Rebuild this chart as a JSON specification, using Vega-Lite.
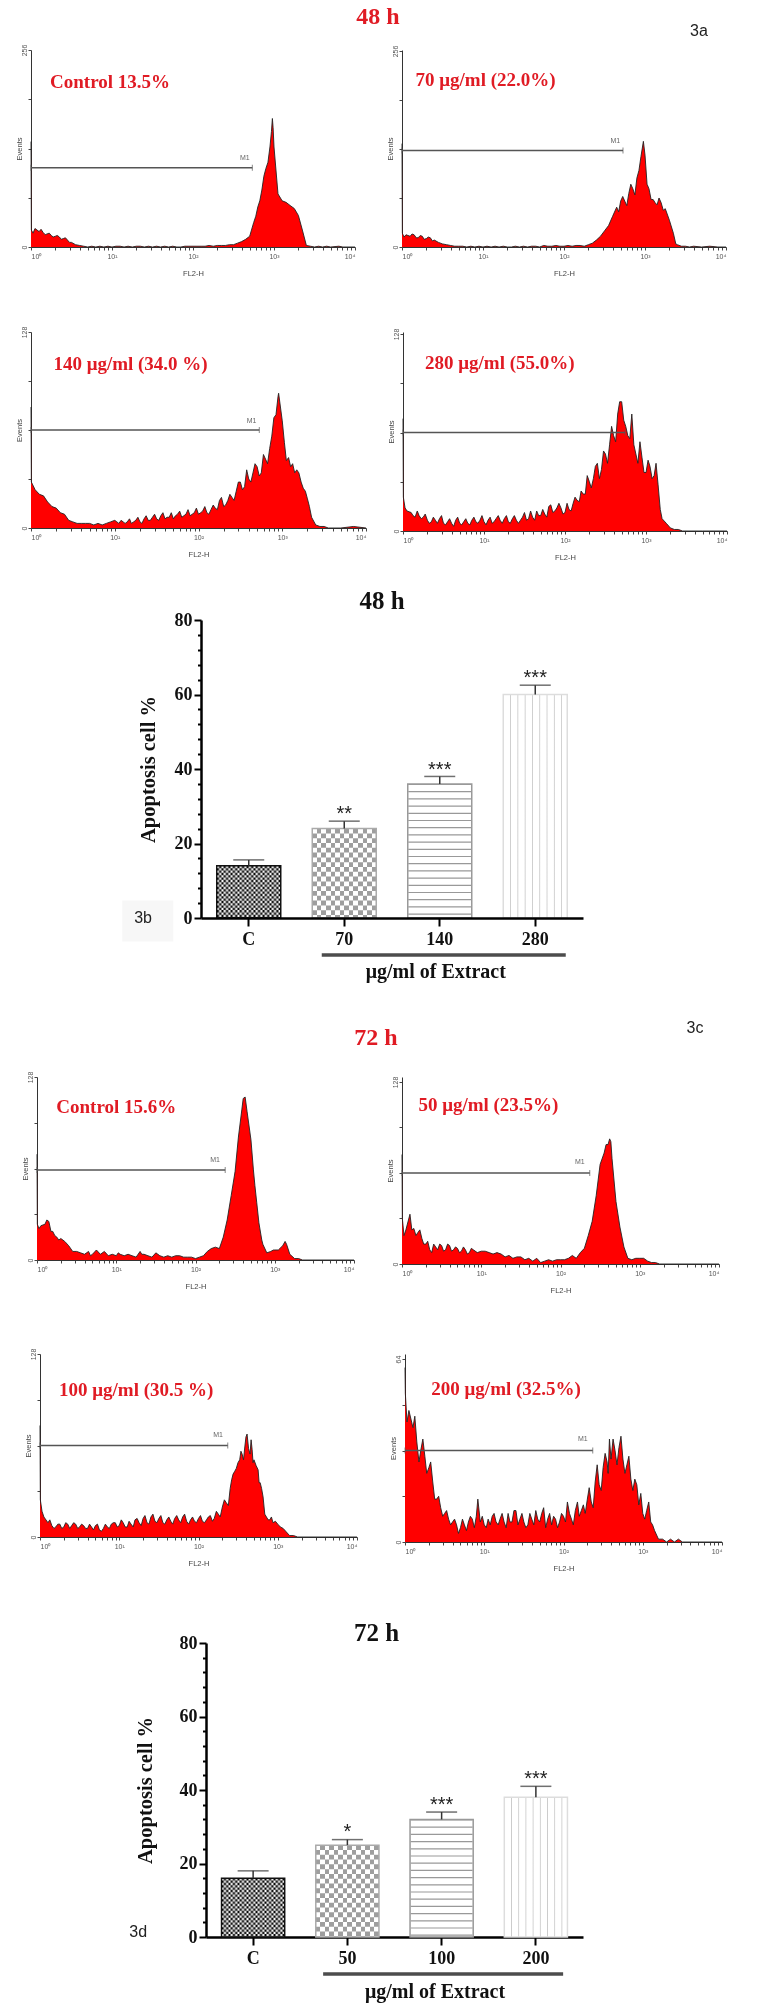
{"$schema":"https://vega.github.io/schema/vega-lite/v6.json","padding":0,"background":"white",
"config":{"view":{"stroke":null},"axis":{"grid":false,"labelFont":"Liberation Sans","labelFontSize":7,"labelColor":"#555","titleFont":"Liberation Sans","titleFontSize":7.5,"titleFontWeight":"normal","titleColor":"#444","domainColor":"#333","tickColor":"#444","tickSize":3,"labelPadding":2,"labelOverlap":false,"titlePadding":10},"axisY":{"titleX":-8,"labelPadding":1},
"style":{"lab":{"font":"Liberation Serif","fontWeight":"bold","fontSize":19,"color":"#e01b24","align":"left"},"m1":{"font":"Liberation Sans","fontSize":7,"color":"#666"},"big":{"font":"Liberation Serif","fontWeight":"bold","fontSize":24,"color":"#e01b24"},"num":{"font":"Liberation Sans","fontSize":16,"color":"#222"},"sub":{"font":"Liberation Serif","fontWeight":"bold","fontSize":20,"color":"#111"},"st":{"font":"Liberation Sans","fontSize":20,"color":"#222"}}},
"datasets":{
"a1":[{"x":1,"y":137},{"x":1.01,"y":22},{"x":1.12,"y":24},{"x":1.26,"y":20},{"x":1.41,"y":19},{"x":1.58,"y":17},{"x":1.78,"y":15},{"x":2,"y":14},{"x":2.24,"y":13},{"x":2.51,"y":11},{"x":2.82,"y":9},{"x":3.16,"y":6},{"x":3.55,"y":3},{"x":3.98,"y":2},{"x":4.47,"y":1},{"x":5.01,"y":0},{"x":5.62,"y":1},{"x":6.31,"y":0},{"x":7.08,"y":1},{"x":7.94,"y":0},{"x":8.91,"y":1},{"x":10,"y":0},{"x":11.2,"y":1},{"x":12.6,"y":1},{"x":14.1,"y":0},{"x":15.8,"y":1},{"x":17.8,"y":0},{"x":20,"y":1},{"x":22.4,"y":1},{"x":25.1,"y":0},{"x":28.2,"y":1},{"x":31.6,"y":0},{"x":35.5,"y":1},{"x":39.8,"y":0},{"x":44.7,"y":1},{"x":50.1,"y":0},{"x":56.2,"y":1},{"x":63.1,"y":0},{"x":70.8,"y":0},{"x":79.4,"y":1},{"x":89.1,"y":1},{"x":100,"y":1},{"x":112,"y":1},{"x":126,"y":1},{"x":141,"y":1},{"x":158,"y":2},{"x":178,"y":1},{"x":200,"y":2},{"x":224,"y":2},{"x":251,"y":2},{"x":282,"y":3},{"x":316,"y":3},{"x":355,"y":5},{"x":398,"y":7},{"x":447,"y":10},{"x":501,"y":14},{"x":562,"y":32},{"x":631,"y":52},{"x":708,"y":74},{"x":794,"y":102},{"x":891,"y":130},{"x":955,"y":167},{"x":1000,"y":130},{"x":1120,"y":69},{"x":1260,"y":60},{"x":1410,"y":58},{"x":1580,"y":54},{"x":1780,"y":50},{"x":2000,"y":41},{"x":2240,"y":22},{"x":2510,"y":2},{"x":2820,"y":1},{"x":3160,"y":0},{"x":3550,"y":1},{"x":3980,"y":0},{"x":4470,"y":1},{"x":5010,"y":0},{"x":6310,"y":1},{"x":7080,"y":0},{"x":8910,"y":0},{"x":10000,"y":0},{"x":1.06,"y":18},{"x":1.33,"y":23},{"x":1.5,"y":16},{"x":1.68,"y":18},{"x":1.88,"y":13},{"x":2.11,"y":15},{"x":2.37,"y":10},{"x":2.66,"y":12},{"x":2.99,"y":6},{"x":596,"y":40},{"x":668,"y":60},{"x":750,"y":92},{"x":842,"y":110},{"x":930,"y":150},{"x":975,"y":155}],
"a2":[{"x":1,"y":135},{"x":1.01,"y":18},{"x":1.12,"y":16},{"x":1.26,"y":14},{"x":1.41,"y":16},{"x":1.58,"y":12},{"x":1.78,"y":14},{"x":2,"y":11},{"x":2.24,"y":12},{"x":2.51,"y":9},{"x":2.82,"y":6},{"x":3.16,"y":4},{"x":3.55,"y":3},{"x":3.98,"y":2},{"x":4.47,"y":1},{"x":5.01,"y":1},{"x":5.62,"y":1},{"x":6.31,"y":0},{"x":7.08,"y":1},{"x":7.94,"y":0},{"x":8.91,"y":1},{"x":10,"y":0},{"x":11.2,"y":1},{"x":12.6,"y":0},{"x":14.1,"y":1},{"x":15.8,"y":0},{"x":17.8,"y":1},{"x":20,"y":0},{"x":22.4,"y":0},{"x":25.1,"y":1},{"x":28.2,"y":0},{"x":31.6,"y":1},{"x":35.5,"y":0},{"x":39.8,"y":1},{"x":44.7,"y":1},{"x":50.1,"y":0},{"x":56.2,"y":2},{"x":63.1,"y":1},{"x":70.8,"y":1},{"x":79.4,"y":2},{"x":89.1,"y":1},{"x":100,"y":1},{"x":112,"y":2},{"x":126,"y":1},{"x":141,"y":2},{"x":158,"y":2},{"x":178,"y":1},{"x":200,"y":3},{"x":224,"y":5},{"x":251,"y":9},{"x":282,"y":14},{"x":316,"y":21},{"x":355,"y":28},{"x":398,"y":40},{"x":447,"y":52},{"x":501,"y":60},{"x":562,"y":60},{"x":631,"y":70},{"x":708,"y":76},{"x":794,"y":90},{"x":891,"y":118},{"x":955,"y":138},{"x":1000,"y":120},{"x":1120,"y":76},{"x":1260,"y":62},{"x":1410,"y":55},{"x":1580,"y":58},{"x":1780,"y":50},{"x":2000,"y":35},{"x":2240,"y":18},{"x":2400,"y":4},{"x":2510,"y":3},{"x":2820,"y":1},{"x":3160,"y":1},{"x":3550,"y":0},{"x":3980,"y":1},{"x":5010,"y":0},{"x":6310,"y":1},{"x":7940,"y":0},{"x":10000,"y":0},{"x":1.06,"y":13},{"x":1.33,"y":17},{"x":1.5,"y":12},{"x":1.68,"y":15},{"x":1.88,"y":10},{"x":2.11,"y":13},{"x":2.37,"y":8},{"x":473,"y":46},{"x":531,"y":66},{"x":596,"y":54},{"x":668,"y":82},{"x":750,"y":68},{"x":842,"y":100},{"x":1060,"y":82},{"x":1190,"y":62},{"x":1330,"y":58},{"x":1490,"y":64},{"x":1680,"y":48}],
"a3":[{"x":1,"y":79},{"x":1.01,"y":30},{"x":1.12,"y":25},{"x":1.26,"y":22},{"x":1.41,"y":21},{"x":1.58,"y":17},{"x":1.78,"y":14},{"x":2,"y":13},{"x":2.24,"y":10},{"x":2.51,"y":9},{"x":2.82,"y":5},{"x":3.16,"y":4},{"x":3.55,"y":3},{"x":3.98,"y":3},{"x":4.47,"y":3},{"x":5.01,"y":3},{"x":5.62,"y":2},{"x":6.31,"y":3},{"x":7.08,"y":2},{"x":7.94,"y":3},{"x":8.91,"y":4},{"x":10,"y":5},{"x":11.2,"y":3},{"x":12.6,"y":4},{"x":14.1,"y":4},{"x":15.8,"y":3},{"x":17.8,"y":5},{"x":20,"y":4},{"x":22.4,"y":6},{"x":25.1,"y":5},{"x":28.2,"y":7},{"x":31.6,"y":6},{"x":35.5,"y":8},{"x":39.8,"y":6},{"x":44.7,"y":7},{"x":50.1,"y":6},{"x":56.2,"y":9},{"x":63.1,"y":7},{"x":70.8,"y":9},{"x":79.4,"y":8},{"x":89.1,"y":10},{"x":100,"y":9},{"x":112,"y":11},{"x":126,"y":10},{"x":141,"y":12},{"x":158,"y":13},{"x":178,"y":18},{"x":200,"y":14},{"x":224,"y":18},{"x":251,"y":20},{"x":282,"y":24},{"x":316,"y":30},{"x":355,"y":27},{"x":398,"y":32},{"x":447,"y":36},{"x":501,"y":40},{"x":562,"y":36},{"x":631,"y":45},{"x":708,"y":52},{"x":794,"y":72},{"x":891,"y":86},{"x":905,"y":88},{"x":1000,"y":70},{"x":1120,"y":44},{"x":1260,"y":40},{"x":1410,"y":36},{"x":1580,"y":36},{"x":1780,"y":26},{"x":2000,"y":19},{"x":2240,"y":7},{"x":2510,"y":2},{"x":2820,"y":1},{"x":3160,"y":1},{"x":3550,"y":0},{"x":5010,"y":0},{"x":7080,"y":1},{"x":10000,"y":0},{"x":10.6,"y":4},{"x":11.9,"y":5},{"x":13.3,"y":3},{"x":15,"y":6},{"x":16.8,"y":4},{"x":18.9,"y":7},{"x":21.1,"y":3},{"x":23.7,"y":8},{"x":26.6,"y":5},{"x":29.9,"y":9},{"x":33.5,"y":5},{"x":37.6,"y":10},{"x":42.2,"y":7},{"x":47.3,"y":10},{"x":53.1,"y":8},{"x":59.6,"y":11},{"x":66.8,"y":8},{"x":75,"y":12},{"x":84.1,"y":9},{"x":94.4,"y":13},{"x":106,"y":10},{"x":119,"y":14},{"x":133,"y":9},{"x":150,"y":15},{"x":168,"y":12},{"x":188,"y":20},{"x":211,"y":15},{"x":237,"y":22},{"x":266,"y":18},{"x":299,"y":30},{"x":335,"y":25},{"x":376,"y":38},{"x":422,"y":30},{"x":473,"y":42},{"x":531,"y":34},{"x":596,"y":48},{"x":668,"y":42},{"x":750,"y":60},{"x":842,"y":74},{"x":1060,"y":56},{"x":1190,"y":46},{"x":1330,"y":42},{"x":1490,"y":38},{"x":1680,"y":30},{"x":1890,"y":24},{"x":2110,"y":14}],
"a4":[{"x":1,"y":73},{"x":1.01,"y":22},{"x":1.12,"y":13},{"x":1.26,"y":12},{"x":1.41,"y":9},{"x":1.58,"y":10},{"x":1.78,"y":9},{"x":2,"y":7},{"x":2.24,"y":6},{"x":2.51,"y":7},{"x":2.82,"y":8},{"x":3.16,"y":5},{"x":3.55,"y":6},{"x":3.98,"y":5},{"x":4.47,"y":7},{"x":5.01,"y":5},{"x":5.62,"y":6},{"x":6.31,"y":5},{"x":7.08,"y":7},{"x":7.94,"y":6},{"x":8.91,"y":7},{"x":10,"y":6},{"x":11.2,"y":7},{"x":12.6,"y":5},{"x":14.1,"y":8},{"x":15.8,"y":7},{"x":17.8,"y":8},{"x":20,"y":6},{"x":22.4,"y":8},{"x":25.1,"y":7},{"x":28.2,"y":7},{"x":31.6,"y":12},{"x":35.5,"y":8},{"x":39.8,"y":9},{"x":44.7,"y":13},{"x":50.1,"y":10},{"x":56.2,"y":11},{"x":63.1,"y":16},{"x":70.8,"y":12},{"x":79.4,"y":15},{"x":89.1,"y":15},{"x":100,"y":12},{"x":112,"y":14},{"x":126,"y":18},{"x":141,"y":20},{"x":158,"y":26},{"x":178,"y":24},{"x":200,"y":32},{"x":224,"y":34},{"x":251,"y":44},{"x":282,"y":40},{"x":316,"y":50},{"x":355,"y":56},{"x":398,"y":62},{"x":447,"y":76},{"x":501,"y":84},{"x":562,"y":68},{"x":631,"y":60},{"x":708,"y":56},{"x":794,"y":44},{"x":891,"y":48},{"x":1000,"y":38},{"x":1120,"y":42},{"x":1260,"y":36},{"x":1410,"y":30},{"x":1500,"y":14},{"x":1580,"y":8},{"x":1780,"y":5},{"x":2000,"y":2},{"x":2240,"y":1},{"x":2510,"y":1},{"x":2820,"y":0},{"x":5010,"y":0},{"x":10000,"y":0},{"x":1.06,"y":15},{"x":1.33,"y":10},{"x":1.5,"y":13},{"x":1.68,"y":8},{"x":1.88,"y":11},{"x":2.11,"y":5},{"x":2.37,"y":9},{"x":2.66,"y":5},{"x":2.99,"y":10},{"x":3.35,"y":4},{"x":3.76,"y":8},{"x":4.22,"y":3},{"x":4.73,"y":9},{"x":5.31,"y":4},{"x":5.96,"y":8},{"x":6.68,"y":4},{"x":7.5,"y":9},{"x":8.41,"y":5},{"x":9.44,"y":10},{"x":10.6,"y":4},{"x":11.9,"y":9},{"x":13.3,"y":6},{"x":15,"y":10},{"x":16.8,"y":5},{"x":18.9,"y":10},{"x":21.1,"y":5},{"x":23.7,"y":10},{"x":26.6,"y":5},{"x":29.9,"y":9},{"x":33.5,"y":7},{"x":37.6,"y":13},{"x":42.2,"y":7},{"x":47.3,"y":10},{"x":53.1,"y":14},{"x":59.6,"y":9},{"x":66.8,"y":17},{"x":75,"y":13},{"x":84.1,"y":18},{"x":94.4,"y":11},{"x":106,"y":18},{"x":119,"y":13},{"x":133,"y":22},{"x":150,"y":19},{"x":168,"y":24},{"x":188,"y":36},{"x":211,"y":28},{"x":237,"y":42},{"x":266,"y":34},{"x":299,"y":52},{"x":335,"y":44},{"x":376,"y":68},{"x":422,"y":58},{"x":473,"y":84},{"x":531,"y":72},{"x":596,"y":62},{"x":668,"y":76},{"x":750,"y":50},{"x":842,"y":58},{"x":945,"y":38},{"x":1060,"y":46},{"x":1190,"y":34},{"x":1330,"y":44}],
"c1":[{"x":1,"y":74},{"x":1.01,"y":25},{"x":1.12,"y":24},{"x":1.26,"y":25},{"x":1.41,"y":27},{"x":1.58,"y":20},{"x":1.78,"y":16},{"x":2,"y":15},{"x":2.24,"y":13},{"x":2.51,"y":10},{"x":2.82,"y":6},{"x":3.16,"y":6},{"x":3.55,"y":5},{"x":3.98,"y":4},{"x":4.47,"y":6},{"x":5.01,"y":4},{"x":5.62,"y":7},{"x":6.31,"y":4},{"x":7.08,"y":6},{"x":7.94,"y":3},{"x":8.91,"y":4},{"x":10,"y":3},{"x":11.2,"y":4},{"x":12.6,"y":3},{"x":14.1,"y":4},{"x":15.8,"y":3},{"x":17.8,"y":2},{"x":20,"y":6},{"x":22.4,"y":4},{"x":25.1,"y":3},{"x":28.2,"y":2},{"x":31.6,"y":5},{"x":35.5,"y":3},{"x":39.8,"y":2},{"x":44.7,"y":3},{"x":50.1,"y":2},{"x":56.2,"y":3},{"x":63.1,"y":3},{"x":70.8,"y":2},{"x":79.4,"y":2},{"x":89.1,"y":2},{"x":100,"y":1},{"x":112,"y":2},{"x":126,"y":3},{"x":141,"y":6},{"x":158,"y":8},{"x":178,"y":9},{"x":200,"y":8},{"x":224,"y":16},{"x":251,"y":28},{"x":282,"y":45},{"x":316,"y":62},{"x":348,"y":86},{"x":384,"y":105},{"x":400,"y":113},{"x":423,"y":114},{"x":447,"y":104},{"x":501,"y":84},{"x":538,"y":63},{"x":562,"y":52},{"x":593,"y":40},{"x":631,"y":26},{"x":686,"y":14},{"x":708,"y":11},{"x":794,"y":5},{"x":891,"y":6},{"x":962,"y":7},{"x":1000,"y":7},{"x":1110,"y":7},{"x":1260,"y":10},{"x":1350,"y":13},{"x":1410,"y":11},{"x":1550,"y":4},{"x":1780,"y":1},{"x":2000,"y":1},{"x":2240,"y":0},{"x":10000,"y":0},{"x":1.06,"y":22},{"x":1.33,"y":28},{"x":1.5,"y":20},{"x":1.68,"y":17},{"x":1.88,"y":14},{"x":4.22,"y":5},{"x":4.73,"y":3},{"x":10.6,"y":5},{"x":21,"y":4}],
"c2":[{"x":1,"y":77},{"x":1.01,"y":32},{"x":1.12,"y":24},{"x":1.26,"y":35},{"x":1.41,"y":25},{"x":1.58,"y":22},{"x":1.78,"y":18},{"x":2,"y":14},{"x":2.24,"y":10},{"x":2.51,"y":14},{"x":2.82,"y":10},{"x":3.16,"y":13},{"x":3.55,"y":10},{"x":3.98,"y":13},{"x":4.47,"y":10},{"x":5.01,"y":11},{"x":5.62,"y":9},{"x":6.31,"y":10},{"x":7.08,"y":8},{"x":7.94,"y":10},{"x":8.91,"y":8},{"x":10,"y":9},{"x":11.2,"y":9},{"x":12.6,"y":8},{"x":14.1,"y":7},{"x":15.8,"y":8},{"x":17.8,"y":7},{"x":20,"y":5},{"x":22.4,"y":6},{"x":25.1,"y":4},{"x":28.2,"y":5},{"x":31.6,"y":5},{"x":35.5,"y":3},{"x":39.8,"y":4},{"x":44.7,"y":2},{"x":50.1,"y":4},{"x":56.2,"y":1},{"x":63.1,"y":2},{"x":70.8,"y":3},{"x":79.4,"y":2},{"x":89.1,"y":3},{"x":100,"y":3},{"x":112,"y":3},{"x":126,"y":4},{"x":141,"y":6},{"x":158,"y":4},{"x":178,"y":8},{"x":200,"y":11},{"x":224,"y":20},{"x":251,"y":30},{"x":282,"y":48},{"x":316,"y":70},{"x":355,"y":78},{"x":398,"y":84},{"x":417,"y":88},{"x":447,"y":74},{"x":501,"y":44},{"x":562,"y":26},{"x":631,"y":12},{"x":708,"y":4},{"x":794,"y":3},{"x":891,"y":4},{"x":1000,"y":4},{"x":1120,"y":4},{"x":1260,"y":2},{"x":1410,"y":1},{"x":1580,"y":1},{"x":1780,"y":0},{"x":10000,"y":0},{"x":1.06,"y":20},{"x":1.33,"y":24},{"x":1.5,"y":20},{"x":1.68,"y":24},{"x":1.88,"y":14},{"x":2.11,"y":16},{"x":2.37,"y":8},{"x":2.66,"y":12},{"x":2.99,"y":14},{"x":3.35,"y":9},{"x":3.76,"y":14},{"x":4.22,"y":9},{"x":4.73,"y":12},{"x":5.31,"y":8},{"x":5.96,"y":12},{"x":6.68,"y":7},{"x":7.5,"y":11},{"x":376,"y":84},{"x":432,"y":86}],
"c3":[{"x":1,"y":78},{"x":1.01,"y":26},{"x":1.12,"y":14},{"x":1.26,"y":10},{"x":1.41,"y":8},{"x":1.58,"y":7},{"x":1.78,"y":9},{"x":2,"y":7},{"x":2.24,"y":9},{"x":2.51,"y":8},{"x":2.82,"y":9},{"x":3.16,"y":7},{"x":3.55,"y":8},{"x":3.98,"y":6},{"x":4.47,"y":7},{"x":5.01,"y":8},{"x":5.62,"y":5},{"x":6.31,"y":6},{"x":7.08,"y":7},{"x":7.94,"y":9},{"x":8.91,"y":10},{"x":10,"y":8},{"x":11.2,"y":10},{"x":12.6,"y":7},{"x":14.1,"y":9},{"x":15.8,"y":12},{"x":17.8,"y":10},{"x":20,"y":13},{"x":22.4,"y":10},{"x":25.1,"y":14},{"x":28.2,"y":11},{"x":31.6,"y":13},{"x":35.5,"y":10},{"x":39.8,"y":12},{"x":44.7,"y":11},{"x":50.1,"y":13},{"x":56.2,"y":12},{"x":63.1,"y":14},{"x":70.8,"y":11},{"x":79.4,"y":12},{"x":89.1,"y":11},{"x":100,"y":13},{"x":112,"y":11},{"x":126,"y":12},{"x":141,"y":15},{"x":158,"y":13},{"x":178,"y":16},{"x":200,"y":21},{"x":224,"y":24},{"x":251,"y":34},{"x":273,"y":44},{"x":300,"y":48},{"x":331,"y":54},{"x":355,"y":58},{"x":384,"y":63},{"x":410,"y":72},{"x":447,"y":58},{"x":475,"y":61},{"x":501,"y":54},{"x":565,"y":47},{"x":600,"y":38},{"x":653,"y":28},{"x":720,"y":14},{"x":794,"y":12},{"x":871,"y":10},{"x":1000,"y":9},{"x":1170,"y":6},{"x":1260,"y":4},{"x":1410,"y":1},{"x":1580,"y":1},{"x":1780,"y":0},{"x":10000,"y":0},{"x":1.06,"y":18},{"x":1.33,"y":12},{"x":1.5,"y":6},{"x":1.68,"y":9},{"x":1.88,"y":6},{"x":2.11,"y":10},{"x":2.37,"y":6},{"x":2.66,"y":10},{"x":2.99,"y":6},{"x":3.35,"y":9},{"x":3.76,"y":6},{"x":4.22,"y":9},{"x":4.73,"y":5},{"x":5.31,"y":9},{"x":5.96,"y":4},{"x":6.68,"y":9},{"x":7.5,"y":6},{"x":8.41,"y":10},{"x":9.44,"y":7},{"x":10.6,"y":12},{"x":11.9,"y":7},{"x":13.3,"y":11},{"x":15,"y":7},{"x":16.8,"y":13},{"x":18.9,"y":8},{"x":21.1,"y":15},{"x":23.7,"y":9},{"x":26.6,"y":16},{"x":29.9,"y":10},{"x":33.5,"y":15},{"x":37.6,"y":9},{"x":42.2,"y":14},{"x":47.3,"y":9},{"x":53.1,"y":15},{"x":59.6,"y":10},{"x":66.8,"y":16},{"x":75,"y":9},{"x":84.1,"y":14},{"x":94.4,"y":10},{"x":106,"y":15},{"x":119,"y":10},{"x":133,"y":14},{"x":150,"y":11},{"x":168,"y":18},{"x":188,"y":14},{"x":212,"y":26},{"x":238,"y":22},{"x":262,"y":40},{"x":287,"y":46},{"x":315,"y":52},{"x":343,"y":60},{"x":370,"y":54},{"x":397,"y":70},{"x":428,"y":62},{"x":461,"y":68},{"x":488,"y":52},{"x":533,"y":50},{"x":582,"y":38},{"x":625,"y":34},{"x":686,"y":16},{"x":757,"y":12},{"x":832,"y":14},{"x":935,"y":11},{"x":1080,"y":7}],
"c4":[{"x":1,"y":61},{"x":1.01,"y":52},{"x":1.12,"y":46},{"x":1.26,"y":40},{"x":1.41,"y":35},{"x":1.58,"y":32},{"x":1.78,"y":30},{"x":2,"y":26},{"x":2.24,"y":21},{"x":2.51,"y":15},{"x":2.82,"y":12},{"x":3.16,"y":10},{"x":3.55,"y":8},{"x":3.98,"y":7},{"x":4.47,"y":6},{"x":5.01,"y":5},{"x":5.62,"y":6},{"x":6.31,"y":7},{"x":7.08,"y":8},{"x":7.94,"y":9},{"x":8.3,"y":15},{"x":8.91,"y":7},{"x":10,"y":6},{"x":11.2,"y":8},{"x":12.6,"y":9},{"x":14.1,"y":7},{"x":15.8,"y":8},{"x":17.8,"y":7},{"x":20,"y":10},{"x":22.4,"y":7},{"x":25.1,"y":11},{"x":28.2,"y":8},{"x":31.6,"y":7},{"x":35.5,"y":6},{"x":39.8,"y":8},{"x":44.7,"y":11},{"x":50.1,"y":7},{"x":56.2,"y":12},{"x":63.1,"y":8},{"x":70.8,"y":6},{"x":79.4,"y":8},{"x":89.1,"y":7},{"x":100,"y":9},{"x":112,"y":14},{"x":126,"y":8},{"x":141,"y":11},{"x":158,"y":9},{"x":178,"y":13},{"x":200,"y":15},{"x":224,"y":14},{"x":251,"y":21},{"x":282,"y":20},{"x":316,"y":26},{"x":355,"y":28},{"x":380,"y":36},{"x":398,"y":29},{"x":447,"y":32},{"x":501,"y":33},{"x":562,"y":29},{"x":631,"y":27},{"x":708,"y":22},{"x":794,"y":22},{"x":891,"y":13},{"x":1000,"y":10},{"x":1120,"y":11},{"x":1260,"y":7},{"x":1410,"y":4},{"x":1580,"y":1},{"x":1780,"y":1},{"x":2000,"y":0},{"x":2240,"y":1},{"x":2510,"y":0},{"x":2820,"y":1},{"x":3160,"y":0},{"x":10000,"y":0},{"x":1.06,"y":42},{"x":1.33,"y":44},{"x":1.5,"y":28},{"x":1.68,"y":36},{"x":1.88,"y":24},{"x":2.11,"y":28},{"x":2.37,"y":15},{"x":2.66,"y":16},{"x":2.99,"y":9},{"x":3.35,"y":11},{"x":3.76,"y":6},{"x":4.22,"y":8},{"x":4.73,"y":3},{"x":5.31,"y":8},{"x":5.96,"y":4},{"x":6.68,"y":9},{"x":7.5,"y":5},{"x":9.44,"y":9},{"x":10.6,"y":5},{"x":11.9,"y":6},{"x":13.3,"y":10},{"x":15,"y":6},{"x":16.8,"y":10},{"x":18.9,"y":5},{"x":21.1,"y":7},{"x":23.7,"y":11},{"x":26.6,"y":6},{"x":29.9,"y":10},{"x":33.5,"y":5},{"x":37.6,"y":10},{"x":42.2,"y":6},{"x":47.3,"y":8},{"x":53.1,"y":10},{"x":59.6,"y":5},{"x":66.8,"y":10},{"x":75,"y":9},{"x":84.1,"y":5},{"x":94.4,"y":10},{"x":106,"y":7},{"x":119,"y":10},{"x":133,"y":6},{"x":150,"y":14},{"x":168,"y":11},{"x":188,"y":10},{"x":211,"y":19},{"x":237,"y":12},{"x":266,"y":27},{"x":299,"y":18},{"x":335,"y":31},{"x":366,"y":24},{"x":422,"y":36},{"x":473,"y":27},{"x":531,"y":37},{"x":596,"y":24},{"x":668,"y":30},{"x":750,"y":18},{"x":842,"y":20},{"x":945,"y":17},{"x":1060,"y":8},{"x":1190,"y":14},{"x":1330,"y":6}],
"b":[{"d":"C","v":14,"e":15.6},{"d":"70","v":24,"e":26,"s":29.2,"st":"**"},{"d":"140","v":36,"e":38,"s":41.2,"st":"***"},{"d":"280","v":60,"e":62.5,"s":65.9,"st":"***"}],
"d":[{"d":"C","v":16,"e":18},{"d":"50","v":25,"e":26.5,"s":29.9,"st":"*"},{"d":"100","v":32,"e":34,"s":37.4,"st":"***"},{"d":"200","v":38,"e":41,"s":44.4,"st":"***"}]
},
"columns":2,"spacing":0,"bounds":"flush","align":"each",
"concat":[
{"width":380,"height":50,"data":{"values":[{"t":"48 h"}]},"mark":{"type":"text","style":"big","dy":-8,"dx":188},"encoding":{"text":{"field":"t"}}},
{"width":0,"height":0,"data":{"values":[{}]},"mark":"text","encoding":{}},

{"width":380,"height":197,"encoding":{"x":{"field":"x","type":"quantitative","scale":{"type":"log","domain":[1,10000],"nice":false,"range":[31,355]},"axis":{"title":"FL2-H","tickCount":40,"labelExpr":"datum.value==1?'10⁰':datum.value==10?'10¹':datum.value==100?'10²':datum.value==1000?'10³':datum.value==10000?'10⁴':''"}},"y":{"field":"y","type":"quantitative","scale":{"domain":[0,256],"nice":false},"axis":{"offset":-31,"title":"Events","values":[0,64,128,192,256],"labelAngle":270,"labelExpr":"datum.value==0||datum.value==256?datum.label:''"}}},"layer":[
{"data":{"name":"a1"},"mark":{"type":"area","color":"#f00"}},{"data":{"name":"a1"},"mark":{"type":"line","color":"#222","strokeWidth":0.9}},
{"data":{"values":[{"x":1,"y":103},{"x":540,"y":103}]},"mark":{"type":"line","color":"#555","strokeWidth":1.5}},{"data":{"values":[{"x":1,"y":103},{"x":540,"y":103}]},"mark":{"type":"tick","orient":"vertical","size":6,"thickness":1,"color":"#555"}},
{"data":{"values":[{"x":437,"y":116,"t":"M1"}]},"mark":{"type":"text","style":"m1"},"encoding":{"text":{"field":"t"}}},
{"data":{"values":[{"x":1.72,"y":214,"t":"Control 13.5%"}]},"mark":{"type":"text","style":"lab"},"encoding":{"text":{"field":"t"}}}]},
{"width":377,"height":197,"encoding":{"x":{"field":"x","type":"quantitative","scale":{"type":"log","domain":[1,10000],"nice":false,"range":[22,346]},"axis":{"title":"FL2-H","tickCount":40,"labelExpr":"datum.value==1?'10⁰':datum.value==10?'10¹':datum.value==100?'10²':datum.value==1000?'10³':datum.value==10000?'10⁴':''"}},"y":{"field":"y","type":"quantitative","scale":{"domain":[0,257.3],"nice":false},"axis":{"offset":-22,"title":"Events","values":[0,64,128,192,256],"labelAngle":270,"labelExpr":"datum.value==0||datum.value==256?datum.label:''"}}},"layer":[
{"data":{"name":"a2"},"mark":{"type":"area","color":"#f00"}},{"data":{"name":"a2"},"mark":{"type":"line","color":"#222","strokeWidth":0.9}},
{"data":{"values":[{"x":1,"y":126},{"x":535,"y":126}]},"mark":{"type":"line","color":"#555","strokeWidth":1.5}},{"data":{"values":[{"x":1,"y":126},{"x":535,"y":126}]},"mark":{"type":"tick","orient":"vertical","size":6,"thickness":1,"color":"#555"}},
{"data":{"values":[{"x":430,"y":139,"t":"M1"}]},"mark":{"type":"text","style":"m1"},"encoding":{"text":{"field":"t"}}},
{"data":{"values":[{"x":1.47,"y":218,"t":"70 μg/ml (22.0%)"}]},"mark":{"type":"text","style":"lab"},"encoding":{"text":{"field":"t"}}},
{"data":{"values":[{"x":4640,"y":282,"t":"3a"}]},"mark":{"type":"text","style":"num"},"encoding":{"text":{"field":"t"}}}]},

{"width":1,"height":85,"data":{"values":[{}]},"mark":"text","encoding":{}},{"width":0,"height":0,"data":{"values":[{}]},"mark":"text","encoding":{}},

{"width":380,"height":196,"encoding":{"x":{"field":"x","type":"quantitative","scale":{"type":"log","domain":[1,10000],"nice":false,"range":[31,366]},"axis":{"title":"FL2-H","tickCount":40,"labelExpr":"datum.value==1?'10⁰':datum.value==10?'10¹':datum.value==100?'10²':datum.value==1000?'10³':datum.value==10000?'10⁴':''"}},"y":{"field":"y","type":"quantitative","scale":{"domain":[0,128],"nice":false},"axis":{"offset":-31,"title":"Events","values":[0,32,64,96,128],"labelAngle":270,"labelExpr":"datum.value==0||datum.value==128?datum.label:''"}}},"layer":[
{"data":{"name":"a3"},"mark":{"type":"area","color":"#f00"}},{"data":{"name":"a3"},"mark":{"type":"line","color":"#222","strokeWidth":0.9}},
{"data":{"values":[{"x":1,"y":64},{"x":532,"y":64}]},"mark":{"type":"line","color":"#555","strokeWidth":1.5}},{"data":{"values":[{"x":1,"y":64},{"x":532,"y":64}]},"mark":{"type":"tick","orient":"vertical","size":6,"thickness":1,"color":"#555"}},
{"data":{"values":[{"x":430,"y":70,"t":"M1"}]},"mark":{"type":"text","style":"m1"},"encoding":{"text":{"field":"t"}}},
{"data":{"values":[{"x":1.85,"y":107,"t":"140 μg/ml (34.0 %)"}]},"mark":{"type":"text","style":"lab"},"encoding":{"text":{"field":"t"}}}]},
{"width":377,"height":199,"encoding":{"x":{"field":"x","type":"quantitative","scale":{"type":"log","domain":[1,10000],"nice":false,"range":[23,347]},"axis":{"title":"FL2-H","tickCount":40,"labelExpr":"datum.value==1?'10⁰':datum.value==10?'10¹':datum.value==100?'10²':datum.value==1000?'10³':datum.value==10000?'10⁴':''"}},"y":{"field":"y","type":"quantitative","scale":{"domain":[0,129.3],"nice":false},"axis":{"offset":-23,"title":"Events","values":[0,32,64,96,128],"labelAngle":270,"labelExpr":"datum.value==0||datum.value==128?datum.label:''"}}},"layer":[
{"data":{"name":"a4"},"mark":{"type":"area","color":"#f00"}},{"data":{"name":"a4"},"mark":{"type":"line","color":"#222","strokeWidth":0.9}},
{"data":{"values":[{"x":1,"y":64},{"x":550,"y":64}]},"mark":{"type":"line","color":"#555","strokeWidth":1.5}},{"data":{"values":[{"x":1,"y":64},{"x":550,"y":64}]},"mark":{"type":"tick","orient":"vertical","size":6,"thickness":1,"color":"#555"}},
{"data":{"values":[{"x":1.87,"y":109,"t":"280 μg/ml (55.0%)"}]},"mark":{"type":"text","style":"lab"},"encoding":{"text":{"field":"t"}}}]},

{"width":1,"height":89,"data":{"values":[{}]},"mark":"text","encoding":{}},{"width":0,"height":0,"data":{"values":[{}]},"mark":"text","encoding":{}},

{"width":380,"height":298,"title":{"text":"48 h","font":"Liberation Serif","fontSize":25,"fontWeight":"bold","color":"#111","anchor":"middle","offset":12,"dx":192,"dy":15},"data":{"name":"b"},
"encoding":{"x":{"field":"d","type":"nominal","sort":null,"scale":{"domain":["C","70","140","280"],"paddingInner":0.33,"paddingOuter":0.165,"range":[201,583]},"axis":{"title":null,"labelAngle":0,"labelFont":"Liberation Serif","labelFontWeight":"bold","labelFontSize":18,"labelColor":"#111","labelPadding":4,"domainColor":"#000","domainWidth":2.5,"tickColor":"#000","tickWidth":2,"tickSize":8}},
"y":{"field":"v","type":"quantitative","scale":{"domain":[0,80],"nice":false},"axis":{"offset":-201,"title":"Apoptosis cell %","titleFont":"Liberation Serif","titleFontWeight":"bold","titleFontSize":20.5,"titleColor":"#111","titleX":-47,"titleBaseline":"alphabetic","values":[0,4,8,12,16,20,24,28,32,36,40,44,48,52,56,60,64,68,72,76,80],"labelExpr":"datum.value%20==0?datum.label:''","labelFont":"Liberation Serif","labelFontWeight":"bold","labelFontSize":18,"labelColor":"#111","labelPadding":2,"domainColor":"#000","domainWidth":2.5,"tickColor":"#000","tickWidth":2,"tickSize":{"condition":{"test":"datum.value%20==0","value":7},"value":3.5}}}},
"layer":[
{"data":{"values":[{"d":"C","y":0,"t":"3b"}]},"mark":{"type":"rect","width":51,"height":41,"xOffset":-101,"yOffset":3,"color":"#f7f7f7"},"encoding":{"y":{"field":"y","type":"quantitative"}}},
{"data":{"values":[{"d":"C","y":0,"t":"3b"}]},"mark":{"type":"text","style":"num","dx":-105.7},"encoding":{"y":{"field":"y","type":"quantitative"},"text":{"field":"t"}}},
{"transform":[{"filter":"datum.d=='C'"}],"mark":{"type":"bar","fill":{"gradient":"linear","x1":0,"y1":0,"x2":1,"y2":0,"stops":[{"offset":0.018,"color":"#000"},{"offset":0.054,"color":"#fff"},{"offset":0.089,"color":"#000"},{"offset":0.125,"color":"#fff"},{"offset":0.161,"color":"#000"},{"offset":0.196,"color":"#fff"},{"offset":0.232,"color":"#000"},{"offset":0.268,"color":"#fff"},{"offset":0.304,"color":"#000"},{"offset":0.339,"color":"#fff"},{"offset":0.375,"color":"#000"},{"offset":0.411,"color":"#fff"},{"offset":0.446,"color":"#000"},{"offset":0.482,"color":"#fff"},{"offset":0.518,"color":"#000"},{"offset":0.554,"color":"#fff"},{"offset":0.589,"color":"#000"},{"offset":0.625,"color":"#fff"},{"offset":0.661,"color":"#000"},{"offset":0.696,"color":"#fff"},{"offset":0.732,"color":"#000"},{"offset":0.768,"color":"#fff"},{"offset":0.804,"color":"#000"},{"offset":0.839,"color":"#fff"},{"offset":0.875,"color":"#000"},{"offset":0.911,"color":"#fff"},{"offset":0.946,"color":"#000"},{"offset":0.982,"color":"#fff"}]}}},
{"transform":[{"filter":"datum.d=='C'"}],"mark":{"type":"rule","color":"#fff","strokeWidth":64,"strokeDash":[2.33,2.33],"blend":"difference"},"encoding":{"y2":{"datum":0}}},
{"transform":[{"filter":"datum.d=='70'"}],"mark":{"type":"bar","fill":{"gradient":"linear","x1":0,"y1":0,"x2":1,"y2":0,"stops":[{"offset":0,"color":"#000"},{"offset":0.0714,"color":"#000"},{"offset":0.0714,"color":"#fff"},{"offset":0.1429,"color":"#fff"},{"offset":0.1429,"color":"#000"},{"offset":0.2143,"color":"#000"},{"offset":0.2143,"color":"#fff"},{"offset":0.2857,"color":"#fff"},{"offset":0.2857,"color":"#000"},{"offset":0.3571,"color":"#000"},{"offset":0.3571,"color":"#fff"},{"offset":0.4286,"color":"#fff"},{"offset":0.4286,"color":"#000"},{"offset":0.5,"color":"#000"},{"offset":0.5,"color":"#fff"},{"offset":0.5714,"color":"#fff"},{"offset":0.5714,"color":"#000"},{"offset":0.6429,"color":"#000"},{"offset":0.6429,"color":"#fff"},{"offset":0.7143,"color":"#fff"},{"offset":0.7143,"color":"#000"},{"offset":0.7857,"color":"#000"},{"offset":0.7857,"color":"#fff"},{"offset":0.8571,"color":"#fff"},{"offset":0.8571,"color":"#000"},{"offset":0.9286,"color":"#000"},{"offset":0.9286,"color":"#fff"},{"offset":1,"color":"#fff"}]}}},
{"transform":[{"filter":"datum.d=='70'"}],"mark":{"type":"rule","color":"#fff","strokeWidth":64,"strokeDash":[4.8,4.8],"blend":"difference"},"encoding":{"y2":{"datum":0}}},
{"transform":[{"filter":"datum.d=='70'"}],"mark":{"type":"bar","fill":"#fff","opacity":0.62}},
{"transform":[{"filter":"datum.d=='140'"}],"mark":{"type":"bar","fill":"#fff"}},
{"transform":[{"filter":"datum.d=='140'"}],"mark":{"type":"rule","color":"#999","strokeWidth":63,"strokeDash":[1.2,6]},"encoding":{"y2":{"datum":0}}},
{"transform":[{"filter":"datum.d=='280'"}],"mark":{"type":"bar","fill":{"gradient":"linear","x1":0,"y1":0,"x2":1,"y2":0,"stops":[{"offset":0,"color":"#fff"},{"offset":0.1,"color":"#fff"},{"offset":0.114,"color":"#ccc"},{"offset":0.128,"color":"#fff"},{"offset":0.214,"color":"#fff"},{"offset":0.228,"color":"#ccc"},{"offset":0.242,"color":"#fff"},{"offset":0.328,"color":"#fff"},{"offset":0.342,"color":"#ccc"},{"offset":0.356,"color":"#fff"},{"offset":0.442,"color":"#fff"},{"offset":0.456,"color":"#ccc"},{"offset":0.47,"color":"#fff"},{"offset":0.556,"color":"#fff"},{"offset":0.57,"color":"#ccc"},{"offset":0.584,"color":"#fff"},{"offset":0.67,"color":"#fff"},{"offset":0.684,"color":"#ccc"},{"offset":0.698,"color":"#fff"},{"offset":0.784,"color":"#fff"},{"offset":0.798,"color":"#ccc"},{"offset":0.812,"color":"#fff"},{"offset":0.898,"color":"#fff"},{"offset":0.912,"color":"#ccc"},{"offset":0.926,"color":"#fff"},{"offset":1,"color":"#fff"}]}}},
{"transform":[{"filter":"datum.d=='C'"}],"mark":{"type":"bar","fillOpacity":0,"stroke":"#111","strokeWidth":1.5}},
{"transform":[{"filter":"datum.d=='70'"}],"mark":{"type":"bar","fillOpacity":0,"stroke":"#aaa","strokeWidth":1.5}},
{"transform":[{"filter":"datum.d=='140'"}],"mark":{"type":"bar","fillOpacity":0,"stroke":"#999","strokeWidth":1.5}},
{"transform":[{"filter":"datum.d=='280'"}],"mark":{"type":"bar","fillOpacity":0,"stroke":"#ddd","strokeWidth":1.5}},
{"mark":{"type":"rule","color":"#333","strokeWidth":1.5},"encoding":{"y":{"field":"e","type":"quantitative"},"y2":{"field":"v"}}},
{"mark":{"type":"tick","orient":"horizontal","size":31,"thickness":1.5,"color":"#333"},"encoding":{"y":{"field":"e","type":"quantitative"}}},
{"mark":{"type":"text","style":"st","dy":5},"encoding":{"y":{"field":"s","type":"quantitative"},"text":{"field":"st"}}},
{"data":{"values":[{"d":"140","y":-9.93}]},"mark":{"type":"tick","orient":"horizontal","size":244,"thickness":3.5,"color":"#000","xOffset":4},"encoding":{"y":{"field":"y","type":"quantitative"}}},
{"data":{"values":[{"d":"140","y":-14.5,"t":"μg/ml of Extract"}]},"mark":{"type":"text","style":"sub","dx":-4},"encoding":{"y":{"field":"y","type":"quantitative"},"text":{"field":"t"}}}]},
{"width":0,"height":0,"data":{"values":[{}]},"mark":"text","encoding":{}},

{"width":380,"height":159,"data":{"values":[{"t":"72 h"}]},"mark":{"type":"text","style":"big","dy":40.5,"dx":186},"encoding":{"text":{"field":"t"}}},
{"width":0,"height":0,"data":{"values":[{}]},"mark":"text","encoding":{}},

{"width":380,"height":183,"encoding":{"x":{"field":"x","type":"quantitative","scale":{"type":"log","domain":[1,10000],"nice":false,"range":[37,354]},"axis":{"title":"FL2-H","tickCount":40,"labelExpr":"datum.value==1?'10⁰':datum.value==10?'10¹':datum.value==100?'10²':datum.value==1000?'10³':datum.value==10000?'10⁴':''"}},"y":{"field":"y","type":"quantitative","scale":{"domain":[0,128],"nice":false},"axis":{"offset":-37,"title":"Events","values":[0,32,64,96,128],"labelAngle":270,"labelExpr":"datum.value==0||datum.value==128?datum.label:''"}}},"layer":[
{"data":{"name":"c1"},"mark":{"type":"area","color":"#f00"}},{"data":{"name":"c1"},"mark":{"type":"line","color":"#222","strokeWidth":0.9}},
{"data":{"values":[{"x":1,"y":63},{"x":237,"y":63}]},"mark":{"type":"line","color":"#555","strokeWidth":1.5}},{"data":{"values":[{"x":1,"y":63},{"x":237,"y":63}]},"mark":{"type":"tick","orient":"vertical","size":6,"thickness":1,"color":"#555"}},
{"data":{"values":[{"x":177,"y":70,"t":"M1"}]},"mark":{"type":"text","style":"m1"},"encoding":{"text":{"field":"t"}}},
{"data":{"values":[{"x":1.75,"y":107,"t":"Control 15.6%"}]},"mark":{"type":"text","style":"lab"},"encoding":{"text":{"field":"t"}}}]},
{"width":377,"height":187,"encoding":{"x":{"field":"x","type":"quantitative","scale":{"type":"log","domain":[1,10000],"nice":false,"range":[22,339]},"axis":{"title":"FL2-H","tickCount":40,"labelExpr":"datum.value==1?'10⁰':datum.value==10?'10¹':datum.value==100?'10²':datum.value==1000?'10³':datum.value==10000?'10⁴':''"}},"y":{"field":"y","type":"quantitative","scale":{"domain":[0,131.5],"nice":false},"axis":{"offset":-22,"title":"Events","values":[0,32,64,96,128],"labelAngle":270,"labelExpr":"datum.value==0||datum.value==128?datum.label:''"}}},"layer":[
{"data":{"name":"c2"},"mark":{"type":"area","color":"#f00"}},{"data":{"name":"c2"},"mark":{"type":"line","color":"#222","strokeWidth":0.9}},
{"data":{"values":[{"x":1,"y":64},{"x":234,"y":64}]},"mark":{"type":"line","color":"#555","strokeWidth":1.5}},{"data":{"values":[{"x":1,"y":64},{"x":234,"y":64}]},"mark":{"type":"tick","orient":"vertical","size":6,"thickness":1,"color":"#555"}},
{"data":{"values":[{"x":175,"y":72,"t":"M1"}]},"mark":{"type":"text","style":"m1"},"encoding":{"text":{"field":"t"}}},
{"data":{"values":[{"x":1.61,"y":112,"t":"50 μg/ml (23.5%)"}]},"mark":{"type":"text","style":"lab"},"encoding":{"text":{"field":"t"}}},
{"data":{"values":[{"x":4980,"y":165.7,"t":"3c"}]},"mark":{"type":"text","style":"num"},"encoding":{"text":{"field":"t"}}}]},

{"width":1,"height":90,"data":{"values":[{}]},"mark":"text","encoding":{}},{"width":0,"height":0,"data":{"values":[{}]},"mark":"text","encoding":{}},

{"width":380,"height":183,"encoding":{"x":{"field":"x","type":"quantitative","scale":{"type":"log","domain":[1,10000],"nice":false,"range":[40,357]},"axis":{"title":"FL2-H","tickCount":40,"labelExpr":"datum.value==1?'10⁰':datum.value==10?'10¹':datum.value==100?'10²':datum.value==1000?'10³':datum.value==10000?'10⁴':''"}},"y":{"field":"y","type":"quantitative","scale":{"domain":[0,128],"nice":false},"axis":{"offset":-40,"title":"Events","values":[0,32,64,96,128],"labelAngle":270,"labelExpr":"datum.value==0||datum.value==128?datum.label:''"}}},"layer":[
{"data":{"name":"c3"},"mark":{"type":"area","color":"#f00"}},{"data":{"name":"c3"},"mark":{"type":"line","color":"#222","strokeWidth":0.9}},
{"data":{"values":[{"x":1,"y":64},{"x":234,"y":64}]},"mark":{"type":"line","color":"#555","strokeWidth":1.5}},{"data":{"values":[{"x":1,"y":64},{"x":234,"y":64}]},"mark":{"type":"tick","orient":"vertical","size":6,"thickness":1,"color":"#555"}},
{"data":{"values":[{"x":177,"y":71,"t":"M1"}]},"mark":{"type":"text","style":"m1"},"encoding":{"text":{"field":"t"}}},
{"data":{"values":[{"x":1.74,"y":103,"t":"100 μg/ml (30.5 %)"}]},"mark":{"type":"text","style":"lab"},"encoding":{"text":{"field":"t"}}}]},
{"width":377,"height":188,"encoding":{"x":{"field":"x","type":"quantitative","scale":{"type":"log","domain":[1,10000],"nice":false,"range":[25,342]},"axis":{"title":"FL2-H","tickCount":40,"labelExpr":"datum.value==1?'10⁰':datum.value==10?'10¹':datum.value==100?'10²':datum.value==1000?'10³':datum.value==10000?'10⁴':''"}},"y":{"field":"y","type":"quantitative","scale":{"domain":[0,65.75],"nice":false},"axis":{"offset":-25,"title":"Events","values":[0,16,32,48,64],"labelAngle":270,"labelExpr":"datum.value==0||datum.value==64?datum.label:''"}}},"layer":[
{"data":{"name":"c4"},"mark":{"type":"area","color":"#f00"}},{"data":{"name":"c4"},"mark":{"type":"line","color":"#222","strokeWidth":0.9}},
{"data":{"values":[{"x":1,"y":32},{"x":234,"y":32}]},"mark":{"type":"line","color":"#555","strokeWidth":1.5}},{"data":{"values":[{"x":1,"y":32},{"x":234,"y":32}]},"mark":{"type":"tick","orient":"vertical","size":6,"thickness":1,"color":"#555"}},
{"data":{"values":[{"x":175,"y":36,"t":"M1"}]},"mark":{"type":"text","style":"m1"},"encoding":{"text":{"field":"t"}}},
{"data":{"values":[{"x":2.15,"y":53.4,"t":"200 μg/ml (32.5%)"}]},"mark":{"type":"text","style":"lab"},"encoding":{"text":{"field":"t"}}}]},

{"width":1,"height":101,"data":{"values":[{}]},"mark":"text","encoding":{}},{"width":0,"height":0,"data":{"values":[{}]},"mark":"text","encoding":{}},

{"width":380,"height":294,"title":{"text":"72 h","font":"Liberation Serif","fontSize":25,"fontWeight":"bold","color":"#111","anchor":"middle","offset":3,"dx":186.7,"dy":15},"data":{"name":"d"},
"encoding":{"x":{"field":"d","type":"nominal","sort":null,"scale":{"domain":["C","50","100","200"],"paddingInner":0.33,"paddingOuter":0.165,"range":[206,583]},"axis":{"title":null,"labelAngle":0,"labelFont":"Liberation Serif","labelFontWeight":"bold","labelFontSize":18,"labelColor":"#111","labelPadding":4,"domainColor":"#000","domainWidth":2.5,"tickColor":"#000","tickWidth":2,"tickSize":8}},
"y":{"field":"v","type":"quantitative","scale":{"domain":[0,80],"nice":false},"axis":{"offset":-206,"title":"Apoptosis cell %","titleFont":"Liberation Serif","titleFontWeight":"bold","titleFontSize":20.5,"titleColor":"#111","titleX":-55,"titleBaseline":"alphabetic","values":[0,4,8,12,16,20,24,28,32,36,40,44,48,52,56,60,64,68,72,76,80],"labelExpr":"datum.value%20==0?datum.label:''","labelFont":"Liberation Serif","labelFontWeight":"bold","labelFontSize":18,"labelColor":"#111","labelPadding":2,"domainColor":"#000","domainWidth":2.5,"tickColor":"#000","tickWidth":2,"tickSize":{"condition":{"test":"datum.value%20==0","value":7},"value":3.5}}}},
"layer":[
{"data":{"values":[{"d":"C","y":1.4,"t":"3d"}]},"mark":{"type":"text","style":"num","dx":-115},"encoding":{"y":{"field":"y","type":"quantitative"},"text":{"field":"t"}}},
{"transform":[{"filter":"datum.d=='C'"}],"mark":{"type":"bar","fill":{"gradient":"linear","x1":0,"y1":0,"x2":1,"y2":0,"stops":[{"offset":0.018,"color":"#000"},{"offset":0.054,"color":"#fff"},{"offset":0.089,"color":"#000"},{"offset":0.125,"color":"#fff"},{"offset":0.161,"color":"#000"},{"offset":0.196,"color":"#fff"},{"offset":0.232,"color":"#000"},{"offset":0.268,"color":"#fff"},{"offset":0.304,"color":"#000"},{"offset":0.339,"color":"#fff"},{"offset":0.375,"color":"#000"},{"offset":0.411,"color":"#fff"},{"offset":0.446,"color":"#000"},{"offset":0.482,"color":"#fff"},{"offset":0.518,"color":"#000"},{"offset":0.554,"color":"#fff"},{"offset":0.589,"color":"#000"},{"offset":0.625,"color":"#fff"},{"offset":0.661,"color":"#000"},{"offset":0.696,"color":"#fff"},{"offset":0.732,"color":"#000"},{"offset":0.768,"color":"#fff"},{"offset":0.804,"color":"#000"},{"offset":0.839,"color":"#fff"},{"offset":0.875,"color":"#000"},{"offset":0.911,"color":"#fff"},{"offset":0.946,"color":"#000"},{"offset":0.982,"color":"#fff"}]}}},
{"transform":[{"filter":"datum.d=='C'"}],"mark":{"type":"rule","color":"#fff","strokeWidth":63,"strokeDash":[2.33,2.33],"blend":"difference"},"encoding":{"y2":{"datum":0}}},
{"transform":[{"filter":"datum.d=='50'"}],"mark":{"type":"bar","fill":{"gradient":"linear","x1":0,"y1":0,"x2":1,"y2":0,"stops":[{"offset":0,"color":"#000"},{"offset":0.0714,"color":"#000"},{"offset":0.0714,"color":"#fff"},{"offset":0.1429,"color":"#fff"},{"offset":0.1429,"color":"#000"},{"offset":0.2143,"color":"#000"},{"offset":0.2143,"color":"#fff"},{"offset":0.2857,"color":"#fff"},{"offset":0.2857,"color":"#000"},{"offset":0.3571,"color":"#000"},{"offset":0.3571,"color":"#fff"},{"offset":0.4286,"color":"#fff"},{"offset":0.4286,"color":"#000"},{"offset":0.5,"color":"#000"},{"offset":0.5,"color":"#fff"},{"offset":0.5714,"color":"#fff"},{"offset":0.5714,"color":"#000"},{"offset":0.6429,"color":"#000"},{"offset":0.6429,"color":"#fff"},{"offset":0.7143,"color":"#fff"},{"offset":0.7143,"color":"#000"},{"offset":0.7857,"color":"#000"},{"offset":0.7857,"color":"#fff"},{"offset":0.8571,"color":"#fff"},{"offset":0.8571,"color":"#000"},{"offset":0.9286,"color":"#000"},{"offset":0.9286,"color":"#fff"},{"offset":1,"color":"#fff"}]}}},
{"transform":[{"filter":"datum.d=='50'"}],"mark":{"type":"rule","color":"#fff","strokeWidth":63,"strokeDash":[4.8,4.8],"blend":"difference"},"encoding":{"y2":{"datum":0}}},
{"transform":[{"filter":"datum.d=='50'"}],"mark":{"type":"bar","fill":"#fff","opacity":0.62}},
{"transform":[{"filter":"datum.d=='100'"}],"mark":{"type":"bar","fill":"#fff"}},
{"transform":[{"filter":"datum.d=='100'"}],"mark":{"type":"rule","color":"#999","strokeWidth":62,"strokeDash":[1.2,6]},"encoding":{"y2":{"datum":0}}},
{"transform":[{"filter":"datum.d=='200'"}],"mark":{"type":"bar","fill":{"gradient":"linear","x1":0,"y1":0,"x2":1,"y2":0,"stops":[{"offset":0,"color":"#fff"},{"offset":0.1,"color":"#fff"},{"offset":0.114,"color":"#ccc"},{"offset":0.128,"color":"#fff"},{"offset":0.214,"color":"#fff"},{"offset":0.228,"color":"#ccc"},{"offset":0.242,"color":"#fff"},{"offset":0.328,"color":"#fff"},{"offset":0.342,"color":"#ccc"},{"offset":0.356,"color":"#fff"},{"offset":0.442,"color":"#fff"},{"offset":0.456,"color":"#ccc"},{"offset":0.47,"color":"#fff"},{"offset":0.556,"color":"#fff"},{"offset":0.57,"color":"#ccc"},{"offset":0.584,"color":"#fff"},{"offset":0.67,"color":"#fff"},{"offset":0.684,"color":"#ccc"},{"offset":0.698,"color":"#fff"},{"offset":0.784,"color":"#fff"},{"offset":0.798,"color":"#ccc"},{"offset":0.812,"color":"#fff"},{"offset":0.898,"color":"#fff"},{"offset":0.912,"color":"#ccc"},{"offset":0.926,"color":"#fff"},{"offset":1,"color":"#fff"}]}}},
{"transform":[{"filter":"datum.d=='C'"}],"mark":{"type":"bar","fillOpacity":0,"stroke":"#111","strokeWidth":1.5}},
{"transform":[{"filter":"datum.d=='50'"}],"mark":{"type":"bar","fillOpacity":0,"stroke":"#aaa","strokeWidth":1.5}},
{"transform":[{"filter":"datum.d=='100'"}],"mark":{"type":"bar","fillOpacity":0,"stroke":"#999","strokeWidth":1.5}},
{"transform":[{"filter":"datum.d=='200'"}],"mark":{"type":"bar","fillOpacity":0,"stroke":"#ddd","strokeWidth":1.5}},
{"mark":{"type":"rule","color":"#333","strokeWidth":1.5},"encoding":{"y":{"field":"e","type":"quantitative"},"y2":{"field":"v"}}},
{"mark":{"type":"tick","orient":"horizontal","size":31,"thickness":1.5,"color":"#333"},"encoding":{"y":{"field":"e","type":"quantitative"}}},
{"mark":{"type":"text","style":"st","dy":5},"encoding":{"y":{"field":"s","type":"quantitative"},"text":{"field":"st"}}},
{"data":{"values":[{"d":"100","y":-10.07}]},"mark":{"type":"tick","orient":"horizontal","size":240,"thickness":3.5,"color":"#000","xOffset":1.5},"encoding":{"y":{"field":"y","type":"quantitative"}}},
{"data":{"values":[{"d":"100","y":-15,"t":"μg/ml of Extract"}]},"mark":{"type":"text","style":"sub","dx":-6.6},"encoding":{"y":{"field":"y","type":"quantitative"},"text":{"field":"t"}}}]},
{"width":0,"height":0,"data":{"values":[{}]},"mark":"text","encoding":{}},

{"width":1,"height":79,"data":{"values":[{}]},"mark":"text","encoding":{}},{"width":0,"height":0,"data":{"values":[{}]},"mark":"text","encoding":{}}
]}
